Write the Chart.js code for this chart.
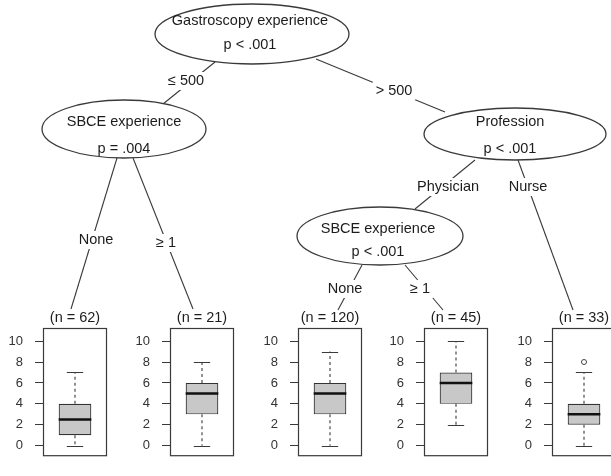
<!DOCTYPE html>
<html>
<head>
<meta charset="utf-8">
<script src="https://cdn.jsdelivr.net/npm/chart.js@4.4.1/dist/chart.umd.min.js"></script>
<style>
    body { margin: 0; background: #fff; }
    #wrap { position: relative; width: 611px; height: 476px; overflow: hidden; }
    #wrap canvas { position: absolute; }
</style>
</head>
<body>
<div id="wrap">
    <canvas id="tree" width="611" height="476" style="left:0;top:0"></canvas>
</div>
<script>
// inner nodes of the tree
const splitVars = ["Gastroscopy experience", "SBCE experience", "Profession", "SBCE experience"];
const pValues = ["p < .001", "p = .004", "p < .001", "p < .001"];
const edgeLabels = ["\u2264 500", "> 500", "None", "\u2265 1", "Physician", "Nurse", "None", "\u2265 1"];

// terminal nodes: box plot statistics
const leafN = [62, 21, 120, 45, 33];
const whiskLo = [0, 0, 0, 2, 0];
const q1 = [1, 3, 3, 4, 2];
const median = [2.5, 5, 5, 6, 3];
const q3 = [4, 6, 6, 7, 4];
const whiskHi = [7, 8, 9, 10, 7];
const outliers = [[], [], [], [], [8]];
const yTicks = [0, 2, 4, 6, 8, 10];

const FONT = '"Liberation Sans", Arial, sans-serif';
const INK = "#1c1c1c";

// layout (pixels)
const nodeBox = [
    { cx: 252, cy: 34, rx: 97, ry: 30, t1: 21, t2: 45, tx: 250 },
    { cx: 124, cy: 129, rx: 82, ry: 29, t1: 122, t2: 149, tx: 124 },
    { cx: 515, cy: 134, rx: 91, ry: 26, t1: 122, t2: 149, tx: 510 },
    { cx: 380, cy: 236, rx: 83, ry: 29, t1: 229, t2: 252, tx: 378 },
];
const edgeGeom = [
    [215, 62, 163, 104, 186, 81],
    [316, 59, 445, 112, 394, 91],
    [117, 158, 71, 309, 96, 240],
    [133, 158, 193, 309, 166, 243],
    [475, 160, 415, 209, 448, 187],
    [518, 160, 573, 310, 528, 187],
    [362, 265, 338, 310, 345, 289],
    [405, 265, 443, 310, 420, 289],
];
const frameLeft = [43, 170, 298, 424, 552];
const frameW = 67;

const treePlugin = {
    id: "tree",
    afterDraw(chart) {
        const ctx = chart.ctx;
        const px = (v) => chart.scales.x.getPixelForValue(v);
        const py = (v) => chart.scales.y.getPixelForValue(v);
        ctx.save();
        ctx.strokeStyle = "#3a3a3a";
        ctx.lineWidth = 1.1;
        edgeGeom.forEach((e) => {
            ctx.beginPath();
            ctx.moveTo(px(e[0]), py(e[1]));
            ctx.lineTo(px(e[2]), py(e[3]));
            ctx.stroke();
        });
        nodeBox.forEach((n, i) => {
            ctx.beginPath();
            ctx.ellipse(px(n.cx), py(n.cy), n.rx, n.ry, 0, 0, Math.PI * 2);
            ctx.fillStyle = "#fff";
            ctx.fill();
            ctx.lineWidth = 1.3;
            ctx.stroke();
            ctx.fillStyle = INK;
            ctx.font = "14.5px " + FONT;
            ctx.textAlign = "center";
            ctx.textBaseline = "middle";
            ctx.fillText(splitVars[i], px(n.tx), py(n.t1));
            ctx.fillText(pValues[i], px(n.tx), py(n.t2));
        });
        ctx.font = "14.5px " + FONT;
        edgeLabels.forEach((lab, i) => {
            const e = edgeGeom[i];
            const w = ctx.measureText(lab).width;
            ctx.fillStyle = "#fff";
            ctx.fillRect(px(e[4]) - w / 2 - 3, py(e[5]) - 9, w + 6, 18);
            ctx.fillStyle = INK;
            ctx.fillText(lab, px(e[4]), py(e[5]));
        });
        ctx.restore();
    },
};

new Chart(document.getElementById("tree"), {
    type: "scatter",
    data: { datasets: [] },
    options: {
        responsive: false,
        animation: false,
        layout: { padding: 0 },
        plugins: { legend: { display: false }, tooltip: { enabled: false } },
        scales: {
            x: { display: false, min: 0, max: 611 },
            y: { display: false, min: 0, max: 476, reverse: true },
        },
    },
    plugins: [treePlugin],
});

const boxPlugin = {
    id: "boxExtras",
    beforeDatasetsDraw(chart) {
        const i = chart.options.leafIndex;
        const ctx = chart.ctx;
        const y = chart.scales.y;
        const bar = chart.getDatasetMeta(0).data[0];
        const cap = bar.width / 4;
        ctx.save();
        ctx.strokeStyle = "#3a3a3a";
        ctx.lineWidth = 1.1;
        ctx.setLineDash([3, 3]);
        ctx.beginPath();
        ctx.moveTo(bar.x, y.getPixelForValue(q3[i]));
        ctx.lineTo(bar.x, y.getPixelForValue(whiskHi[i]));
        ctx.moveTo(bar.x, y.getPixelForValue(q1[i]));
        ctx.lineTo(bar.x, y.getPixelForValue(whiskLo[i]));
        ctx.stroke();
        ctx.setLineDash([]);
        ctx.beginPath();
        [whiskHi[i], whiskLo[i]].forEach((v) => {
            const yy = Math.round(y.getPixelForValue(v)) + 0.5;
            ctx.moveTo(bar.x - cap, yy);
            ctx.lineTo(bar.x + cap, yy);
        });
        ctx.stroke();
        ctx.restore();
    },
    afterDatasetsDraw(chart) {
        const i = chart.options.leafIndex;
        const ctx = chart.ctx;
        const a = chart.chartArea;
        const y = chart.scales.y;
        const bar = chart.getDatasetMeta(0).data[0];
        ctx.save();
        ctx.strokeStyle = "#111";
        ctx.lineWidth = 2.5;
        ctx.beginPath();
        ctx.moveTo(bar.x - bar.width / 2, y.getPixelForValue(median[i]));
        ctx.lineTo(bar.x + bar.width / 2, y.getPixelForValue(median[i]));
        ctx.stroke();
        ctx.strokeStyle = "#3a3a3a";
        ctx.lineWidth = 1.2;
        ctx.strokeRect(a.left + 0.5, a.top + 0.5, a.width - 1, a.height - 1);
        ctx.fillStyle = INK;
        ctx.font = "14.5px " + FONT;
        ctx.textAlign = "center";
        ctx.textBaseline = "middle";
        ctx.fillText("(n = " + leafN[i] + ")", (a.left + a.right) / 2, a.top - 10);
        ctx.restore();
    },
};

const wrap = document.getElementById("wrap");
leafN.forEach((n, i) => {
    const cv = document.createElement("canvas");
    cv.width = 43 + frameW + 2;
    cv.height = 176;
    cv.style.left = frameLeft[i] - 43 + "px";
    cv.style.top = "300px";
    wrap.appendChild(cv);
    new Chart(cv, {
        type: "bar",
        data: {
            labels: [""],
            datasets: [
                {
                    data: [[q1[i], q3[i]]],
                    backgroundColor: "#c8c8c8",
                    borderColor: "#333",
                    borderWidth: 1.2,
                    borderSkipped: false,
                    categoryPercentage: 1,
                    barPercentage: 0.51,
                },
                {
                    type: "line",
                    data: outliers[i].length ? outliers[i] : [null],
                    showLine: false,
                    pointRadius: 2.5,
                    pointBackgroundColor: "#fff",
                    pointBorderColor: "#444",
                    pointBorderWidth: 1,
                },
            ],
        },
        options: {
            leafIndex: i,
            responsive: false,
            animation: false,
            layout: { padding: { top: 28, right: 2, bottom: 2, left: 0 } },
            plugins: { legend: { display: false }, tooltip: { enabled: false } },
            scales: {
                x: { display: false },
                y: {
                    min: -1,
                    max: 11.25,
                    afterBuildTicks: (s) => {
                        s.ticks = yTicks.map((v) => ({ value: v }));
                    },
                    afterFit: (s) => {
                        s.width = 43;
                    },
                    border: { display: false },
                    grid: { drawOnChartArea: false, tickLength: 8, color: "#3a3a3a" },
                    ticks: { padding: 12, color: "#333", font: { size: 13, family: FONT } },
                },
            },
        },
        plugins: [boxPlugin],
    });
});
</script>
</body>
</html>
